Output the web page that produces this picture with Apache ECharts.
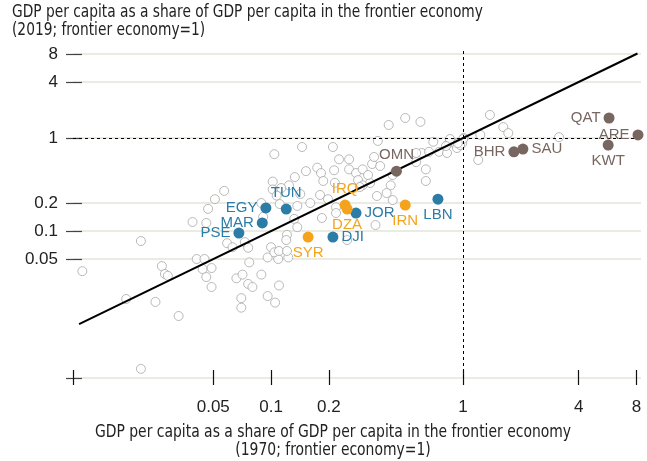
<!DOCTYPE html>
<html>
<head>
<meta charset="utf-8">
<script src="https://cdn.jsdelivr.net/npm/echarts@6/dist/echarts.min.js"></script>
<style>
  html, body { margin: 0; padding: 0; background: #fff; }
  #chart { width: 647px; height: 461px; }
</style>
</head>
<body>
<div id="chart"></div>
<script>
// tick marks on both axes (shares of frontier GDP per capita, log scale)
const tickValues = [0.05, 0.1, 0.2, 1, 4, 8]
const tickLabels = ['0.05', '0.1', '0.2', '1', '4', '8']
const xMin = 0.0093, xMax = 8.45
const yMin = 0.00263, yMax = 8.83

// 45 degree line, from / to
const parityLine = [0.01, 8.1]

// all other economies: 1970 share (x) and 2019 share (y)
const otherX = [
  0.0104, 0.021, 0.0176, 0.025, 0.033, 0.021, 0.027, 0.028, 0.029, 0.057,
  0.051, 0.047, 0.039, 0.046, 0.059, 0.063, 0.041, 0.045, 0.044, 0.049,
  0.046, 0.049, 0.066, 0.071, 0.076, 0.080, 0.070, 0.070, 0.073, 0.076,
  0.077, 0.089, 0.096, 0.105, 0.110, 0.096, 0.109, 0.123, 0.100, 0.104,
  0.110, 0.121, 0.121, 0.120, 0.145, 0.21, 0.104, 0.226, 0.152, 0.174,
  0.182, 0.213, 0.187, 0.215, 0.133, 0.124, 0.102, 0.102, 0.113, 0.107,
  0.142, 0.180, 0.198, 0.218, 0.160, 0.137, 0.111, 0.089, 0.091, 0.132,
  0.137, 0.184, 0.218, 0.249, 0.41, 0.50, 0.60, 0.36, 0.255, 0.255,
  0.277, 0.30, 0.336, 0.37, 0.284, 0.328, 0.30, 0.43, 0.42, 0.40,
  0.43, 0.356, 0.29, 0.61, 0.665, 0.70, 0.75, 0.825, 0.845, 0.91,
  0.93, 0.99, 1.01, 0.64, 0.64, 0.57, 0.57, 0.965, 0.35, 0.344,
  0.32, 1.38, 1.62, 1.72, 1.23, 3.16, 1.2, 0.855, 0.815, 1.0,
  0.94
]
const otherY = [
  0.037, 0.078, 0.0186, 0.0173, 0.0122, 0.0033, 0.042, 0.0345, 0.033, 0.27,
  0.22, 0.173, 0.125, 0.122, 0.074, 0.067, 0.050, 0.050, 0.039, 0.040,
  0.032, 0.025, 0.031, 0.034, 0.027, 0.025, 0.019, 0.015, 0.076, 0.066,
  0.046, 0.034, 0.020, 0.017, 0.026, 0.052, 0.050, 0.052, 0.067, 0.059,
  0.061, 0.061, 0.091, 0.080, 0.80, 0.80, 0.67, 0.59, 0.44, 0.48,
  0.42, 0.45, 0.345, 0.33, 0.38, 0.31, 0.34, 0.28, 0.29, 0.24,
  0.25, 0.244, 0.22, 0.18, 0.20, 0.186, 0.195, 0.20, 0.142, 0.135,
  0.110, 0.138, 0.156, 0.080, 1.38, 1.64, 1.49, 0.93, 0.59, 0.46,
  0.42, 0.46, 0.525, 0.50, 0.353, 0.328, 0.31, 0.40, 0.31, 0.256,
  0.215, 0.238, 0.297, 0.69, 0.71, 0.91, 0.71, 0.69, 0.88, 0.88,
  0.78, 0.88, 1.0, 0.46, 0.345, 0.55, 0.69, 0.84, 0.116, 0.625,
  0.40, 1.77, 1.31, 1.13, 1.08, 1.02, 0.58, 0.975, 0.82, 0.975,
  0.88
]

// highlighted economies
const countryNames = ['EGY', 'TUN', 'MAR', 'PSE', 'JOR', 'DJI', 'LBN', 'IRQ', 'DZA', 'IRN', 'SYR', 'OMN', 'BHR', 'SAU', 'QAT', 'ARE', 'KWT']
const countryX = [0.094, 0.12, 0.090, 0.068, 0.277, 0.21, 0.74, 0.243, 0.249, 0.50, 0.156, 0.45, 1.84, 2.05, 5.76, 8.15, 5.7]
const countryY = [0.177, 0.172, 0.122, 0.095, 0.156, 0.086, 0.22, 0.19, 0.172, 0.19, 0.086, 0.44, 0.71, 0.76, 1.64, 1.08, 0.84]
const countryGroup = ['importer', 'importer', 'importer', 'importer', 'importer', 'importer', 'importer', 'exporter', 'exporter', 'exporter', 'exporter', 'gcc', 'gcc', 'gcc', 'gcc', 'gcc', 'gcc']

const groupColors = { importer: '#2b7ca6', exporter: '#f5a31c', gcc: '#786660' }
const labelPos = {
  EGY: 'left', TUN: 'top', MAR: 'left', PSE: 'left', JOR: 'right', DJI: 'right', LBN: 'bottom',
  IRQ: 'top', DZA: 'bottom', IRN: 'bottom', SYR: 'bottom',
  OMN: 'top', BHR: 'left', SAU: 'right', QAT: 'left', ARE: 'left', KWT: 'bottom'
}

const titleTop = 'GDP per capita as a share of GDP per capita in the frontier economy\n(2019; frontier economy=1)'
const titleBottom = 'GDP per capita as a share of GDP per capita in the frontier economy\n(1970; frontier economy=1)'

const lg = Math.log10
const fmtTick = (v) => {
  const i = tickValues.findIndex(t => Math.abs(lg(t) - v) < 1e-6)
  return i < 0 ? '' : tickLabels[i]
}

const groupSeries = Object.keys(groupColors).map(g => ({
  type: 'scatter',
  z: 5,
  symbolSize: 11,
  itemStyle: { color: groupColors[g], opacity: 1 },
  label: {
    show: true,
    color: groupColors[g],
    fontFamily: 'Liberation Sans',
    fontSize: 15,
    distance: 3,
    formatter: p => p.name
  },
  data: countryNames
    .map((n, i) => ({ n, i }))
    .filter(d => countryGroup[d.i] === g)
    .map(d => ({
      name: d.n,
      value: [lg(countryX[d.i]), lg(countryY[d.i])],
      label: { position: labelPos[d.n] }
    }))
}))

const titleFont = '17px "DejaVu Sans Condensed", sans-serif'

const myChart = echarts.init(document.getElementById('chart'))
myChart.setOption({
  animation: false,
  graphic: [
    {
      type: 'text',
      x: 12,
      y: 4,
      scaleX: 0.9,
      style: { text: titleTop, font: titleFont, fill: '#222', lineHeight: 18, align: 'left', verticalAlign: 'top' }
    },
    {
      type: 'text',
      x: 333,
      y: 424,
      scaleX: 0.91,
      style: { text: titleBottom, font: titleFont, fill: '#222', lineHeight: 18, align: 'center', verticalAlign: 'top' }
    }
  ],
  grid: {
    left: 73,
    right: 6,
    top: 50,
    bottom: 83,
    outerBoundsMode: 'none'
  },
  xAxis: {
    type: 'value',
    min: lg(xMin),
    max: lg(xMax),
    offset: -8,
    axisLine: { show: false, onZero: false },
    axisTick: {
      show: true,
      length: 15,
      lineStyle: { color: '#111', width: 1.2 },
      customValues: [lg(xMin)].concat(tickValues.map(lg))
    },
    axisLabel: {
      customValues: tickValues.map(lg),
      formatter: fmtTick,
      margin: 29,
      fontFamily: 'Liberation Sans',
      fontSize: 17,
      color: '#222'
    },
    splitLine: { show: false }
  },
  yAxis: {
    type: 'value',
    min: lg(yMin),
    max: lg(yMax),
    offset: -9,
    axisLine: { show: false, onZero: false },
    axisTick: {
      show: true,
      length: 16,
      lineStyle: { color: '#444', width: 1.2 },
      customValues: [lg(yMin)].concat(tickValues.map(lg))
    },
    axisLabel: {
      customValues: tickValues.map(lg),
      formatter: fmtTick,
      margin: 24,
      fontFamily: 'Liberation Sans',
      fontSize: 17,
      color: '#222'
    },
    splitLine: {
      show: true,
      lineStyle: { color: '#e2e6da', width: 1.5 }
    }
  },
  series: [
    {
      type: 'scatter',
      z: 2,
      symbolSize: 9,
      itemStyle: { color: '#fff', borderColor: '#a8a8a8', borderWidth: 1 },
      data: otherX.map((x, i) => [lg(x), lg(otherY[i])])
    },
    {
      type: 'line',
      z: 3,
      symbol: 'none',
      lineStyle: { color: '#000', width: 2 },
      data: parityLine.map(v => [lg(v), lg(v)]),
      markLine: {
        silent: true,
        symbol: 'none',
        label: { show: false },
        lineStyle: { color: '#000', width: 1, type: [3, 3] },
        data: [
          [{ coord: [lg(1), lg(yMin)] }, { coord: [lg(1), lg(yMax)] }],
          [{ coord: [lg(xMin), lg(1)] }, { coord: [lg(xMax), lg(1)] }]
        ]
      }
    }
  ].concat(groupSeries)
})
</script>
</body>
</html>
